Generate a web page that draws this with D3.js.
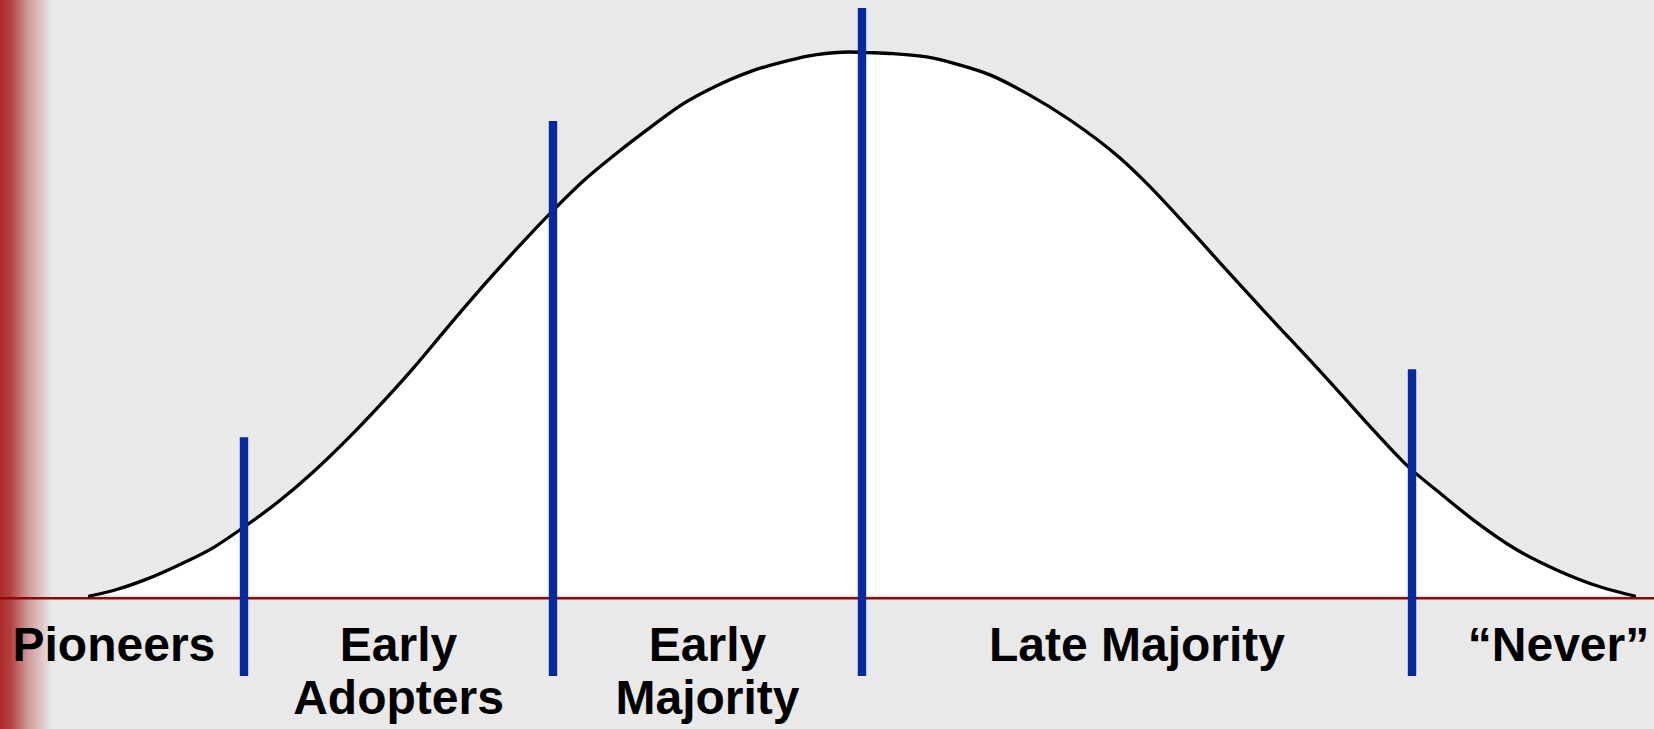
<!DOCTYPE html>
<html>
<head>
<meta charset="utf-8">
<script src="https://cdn.jsdelivr.net/npm/d3@7"></script>
<style>
  html, body { margin: 0; padding: 0; background: #e9e9e9; }
  svg { display: block; }
</style>
</head>
<body>
<svg id="chart" width="1654" height="729"></svg>
<script>
// ---- Data (x in standard deviations from the mean, y = relative height, peak = 100) ----
const curveX = [-2.50, -2.412, -2.315, -2.207, -2.099, -2.007, -1.883, -1.776, -1.668, -1.560,
  -1.452, -1.344, -1.269, -1.226, -1.118, -1.010, -0.902, -0.794, -0.686, -0.578,
  -0.470, -0.362, -0.255, -0.211, -0.147, -0.039, 0.015, 0.101, 0.209, 0.317,
  0.414, 0.533, 0.673, 0.835, 0.910, 1.072, 1.180, 1.288, 1.353, 1.439,
  1.547, 1.655, 1.773, 1.871, 1.978, 2.119, 2.248, 2.388, 2.50];
const curveY = [0, 1.2, 3.1, 5.8, 8.9, 12.4, 17.6, 22.8, 28.7, 35.1,
  41.9, 49.2, 54.2, 57.0, 63.8, 70.3, 76.3, 81.4, 86.1, 90.5,
  93.8, 96.4, 98.2, 98.8, 99.5, 100, 99.9, 99.7, 99.1, 97.6,
  95.8, 92.4, 87.5, 80.5, 76.5, 66.7, 59.9, 53.2, 49.2, 44.0,
  37.3, 30.5, 23.5, 18.9, 14.0, 8.5, 4.8, 1.7, 0];

// Segment dividers (blue lines)
const dividerX   = [-2, -1, 0, 1.78];
const dividerTop = [29.2, 87.3, 108.1, 41.7];
const dividerBottom = -14.7;

// Category labels
const categories = [["Pioneers"], ["Early", "Adopters"], ["Early", "Majority"], ["Late Majority"], ["\u201CNever\u201D"]];
const labelX = [-2.421, -1.5, -0.5, 0.89, 2.254];

// ---- Drawing ----
const W = 1654, H = 729;
const svg = d3.select("#chart");

const x = d3.scaleLinear().domain([-2.5, 2.5]).range([89.5, 1634.5]);
const y = d3.scaleLinear().domain([0, 100]).range([596, 52]);

// background
svg.append("rect").attr("width", W).attr("height", H).attr("fill", "#e9e9e9");

// left red gradient edge
const defs = svg.append("defs");
const grad = defs.append("linearGradient").attr("id", "edge").attr("x1", 0).attr("x2", 1).attr("y1", 0).attr("y2", 0);
grad.append("stop").attr("offset", "0%").attr("stop-color", "#aa2a2a");
grad.append("stop").attr("offset", "20%").attr("stop-color", "#b44040");
grad.append("stop").attr("offset", "55%").attr("stop-color", "#d09c9c");
grad.append("stop").attr("offset", "100%").attr("stop-color", "#e9e9e9");
svg.append("rect").attr("x", 0).attr("y", 0).attr("width", 52).attr("height", H).attr("fill", "url(#edge)");

const pts = curveX.map((d, i) => [d, curveY[i]]);

// white area under curve
const area = d3.area().x(d => x(d[0])).y0(y(0) - 1).y1(d => y(d[1])).curve(d3.curveMonotoneX);
svg.append("path").datum(pts).attr("d", area).attr("fill", "#ffffff");

// baseline (dark red)
svg.append("line")
  .attr("x1", 0).attr("x2", W)
  .attr("y1", y(0) + 2.3).attr("y2", y(0) + 2.3)
  .attr("stroke", "#8e0b0b").attr("stroke-width", 2.6);

// curve outline
const line = d3.line().x(d => x(d[0])).y(d => y(d[1])).curve(d3.curveMonotoneX);
svg.append("path").datum(pts).attr("d", line)
  .attr("fill", "none").attr("stroke", "#000").attr("stroke-width", 3.3)
  .attr("stroke-linejoin", "round").attr("stroke-linecap", "round");

// blue dividers
svg.selectAll("line.div").data(dividerX).join("line")
  .attr("class", "div")
  .attr("x1", d => x(d)).attr("x2", d => x(d))
  .attr("y1", (d, i) => y(dividerTop[i]))
  .attr("y2", y(dividerBottom))
  .attr("stroke", "#0629a0").attr("stroke-width", 8.4);

// labels
const lab = svg.selectAll("text.lab").data(categories).join("text")
  .attr("class", "lab")
  .attr("x", (d, i) => x(labelX[i]))
  .attr("y", 661)
  .attr("text-anchor", "middle")
  .attr("font-family", "'Liberation Sans', Arial, Helvetica, sans-serif")
  .attr("font-weight", "bold")
  .attr("font-size", 48)
  .attr("fill", "#000");
lab.each(function(d, i) {
  const t = d3.select(this);
  d.forEach((s, j) => {
    t.append("tspan").attr("x", x(labelX[i])).attr("dy", j === 0 ? 0 : 52.5).text(s);
  });
});
</script>
</body>
</html>
